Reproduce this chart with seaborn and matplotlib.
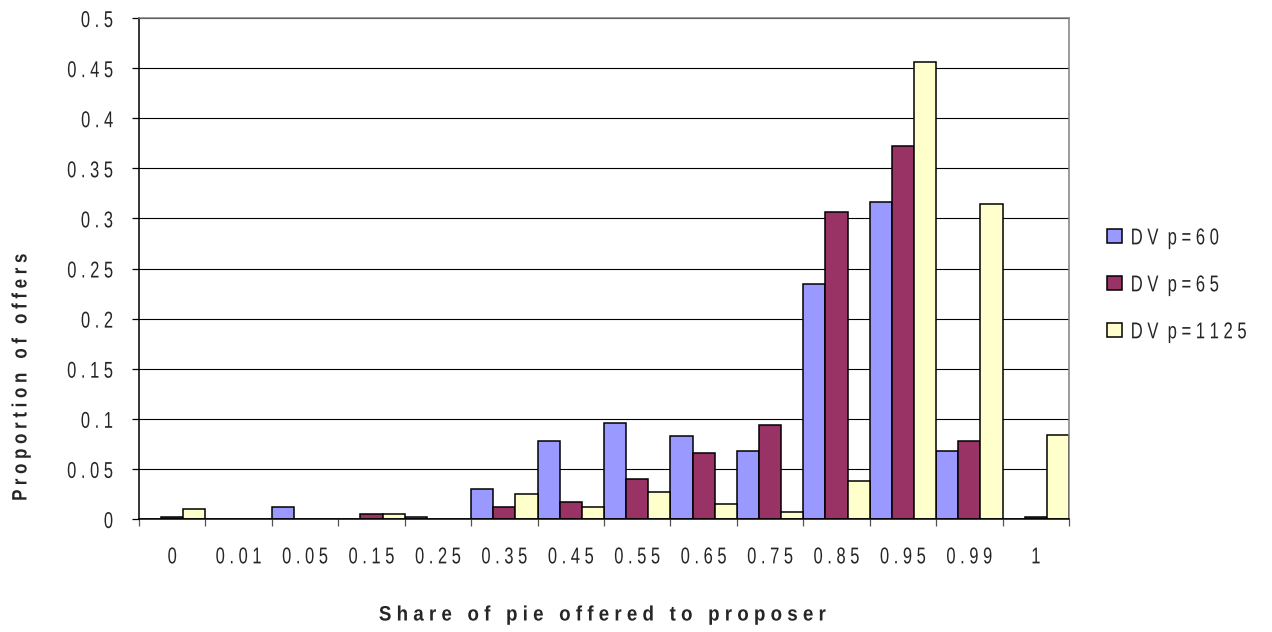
import numpy as np
import pandas as pd
import matplotlib
matplotlib.use("Agg")
import matplotlib.pyplot as plt
from matplotlib import patheffects
from matplotlib.path import Path
from matplotlib.transforms import Affine2D
from matplotlib.patches import Patch
import seaborn as sns

# Offer shares (categories) and proportion of offers for each treatment
categories = ["0", "0.01", "0.05", "0.15", "0.25", "0.35", "0.45",
              "0.55", "0.65", "0.75", "0.85", "0.95", "0.99", "1"]
dvp60 = [0.000, 0.000, 0.012, 0.000, 0.002, 0.030, 0.078,
         0.096, 0.083, 0.068, 0.235, 0.316, 0.068, 0.000]
dvp65 = [0.002, 0.000, 0.000, 0.005, 0.000, 0.012, 0.017,
         0.040, 0.066, 0.094, 0.306, 0.372, 0.078, 0.002]
dvp1125 = [0.010, 0.000, 0.000, 0.005, 0.000, 0.025, 0.012,
           0.027, 0.015, 0.007, 0.038, 0.456, 0.314, 0.084]
series_names = ["DV p=60", "DV p=65", "DV p=1125"]
colors = ["#9999FF", "#993366", "#FFFFCC"]
y_ticks = [0, 0.05, 0.1, 0.15, 0.2, 0.25, 0.3, 0.35, 0.4, 0.45, 0.5]
y_tick_labels = ["0", "0.05", "0.1", "0.15", "0.2", "0.25", "0.3",
                 "0.35", "0.4", "0.45", "0.5"]


def spaced(s, word_gap=2):
    """Letter-spaced rendering of a label."""
    return (" " * word_gap).join(" ".join(w) for w in s.split())


class Condense(patheffects.AbstractPathEffect):
    """Draw text glyphs condensed horizontally (and optionally stretched
    vertically) about a fixed anchor."""

    def __init__(self, sx=0.72, anchor="center", sy=1.0):
        super().__init__()
        self.sx = sx
        self.sy = sy
        self.anchor = anchor

    def draw_path(self, renderer, gc, tpath, affine, rgbFace=None):
        verts = tpath.vertices
        if tpath.codes is not None:
            verts = verts[tpath.codes != Path.CLOSEPOLY]
        if len(verts) == 0:
            return
        xs = verts[:, 0]
        if self.anchor == "left":
            ref = 0.0
        elif self.anchor == "right":
            ref = xs.max()
        else:
            ref = 0.5 * (xs.min() + xs.max())
        yref = 36.0  # middle of the digit height in text-path units
        squeeze = (Affine2D().translate(-ref, -yref)
                   .scale(self.sx, self.sy).translate(ref, yref))
        renderer.draw_path(gc, tpath, squeeze + affine, rgbFace)


sns.set_theme(style="white")
plt.rcParams["font.family"] = ["Liberation Sans", "DejaVu Sans"]

df = pd.DataFrame({
    "share": categories * 3,
    "proportion": dvp60 + dvp65 + dvp1125,
    "series": [n for n in series_names for _ in categories],
})

fig = plt.figure(figsize=(12.72, 6.32), dpi=100)
ax = fig.add_axes([139 / 1272, 1 - 519 / 632, 930 / 1272, 501 / 632])

sns.barplot(data=df, x="share", y="proportion", hue="series",
            order=categories, hue_order=series_names, palette=colors,
            saturation=1, width=1.0, gap=0, edgecolor="black",
            linewidth=1.1, errorbar=None, legend=False, ax=ax)

ax.set_xlim(-0.5, len(categories) - 0.5)
ax.set_ylim(0, 0.5)

TICK_FS = 16.5

# y axis: gridlines and letter-spaced labels
ax.set_yticks(y_ticks)
ax.set_yticklabels([spaced(t) for t in y_tick_labels], fontsize=TICK_FS,
                   path_effects=[Condense(0.72, "right")])
ax.yaxis.grid(True, color="black", linewidth=0.8)
ax.set_axisbelow(True)
ax.tick_params(axis="y", direction="out", length=5, width=0.9, color="black",
               pad=13.5, left=True)

# x axis: tick marks between categories, labels at category centres
ax.set_xticks(np.arange(-0.5, len(categories), 1.0))
ax.set_xticklabels([""] * (len(categories) + 1))
ax.set_xticks(np.arange(len(categories)), minor=True)
ax.set_xticklabels([spaced(c) for c in categories], minor=True,
                   fontsize=TICK_FS, path_effects=[Condense(0.72, "center")])
ax.tick_params(axis="x", which="major", direction="out", length=5, width=0.9,
               color="#555555", bottom=True)
ax.tick_params(axis="x", which="minor", length=0, pad=19)

for side in ["left", "bottom"]:
    ax.spines[side].set_color("black")
    ax.spines[side].set_linewidth(1.1)
for side in ["top", "right"]:
    ax.spines[side].set_color("#808080")
    ax.spines[side].set_linewidth(1.1)

ax.set_xlabel(spaced("Share of pie offered to proposer", 3), fontsize=15,
              fontweight="bold", va="center",
              path_effects=[Condense(0.90, "center")])
ax.xaxis.set_label_coords((603 - 139) / 930, (519 - 615) / 501)
ax.set_ylabel(spaced("Proportion of offers", 3), fontsize=15,
              fontweight="bold", va="center",
              path_effects=[Condense(0.81, "center")])
ax.yaxis.set_label_coords((21 - 139) / 930, (519 - 377) / 501)

handles = [Patch(facecolor=c, edgecolor="black", linewidth=1.1) for c in colors]
leg = fig.legend(handles, [spaced(n) for n in series_names], loc="center left",
                 bbox_to_anchor=(1091 / 1272, 1 - 285 / 632), frameon=False,
                 fontsize=13, handlelength=0.8, handleheight=0.8,
                 handletextpad=0.5, labelspacing=1.65)
for t in leg.get_texts():
    t.set_path_effects([Condense(0.92, "left", sy=1.27)])

fig.savefig("out.png", dpi=100, facecolor="white")
